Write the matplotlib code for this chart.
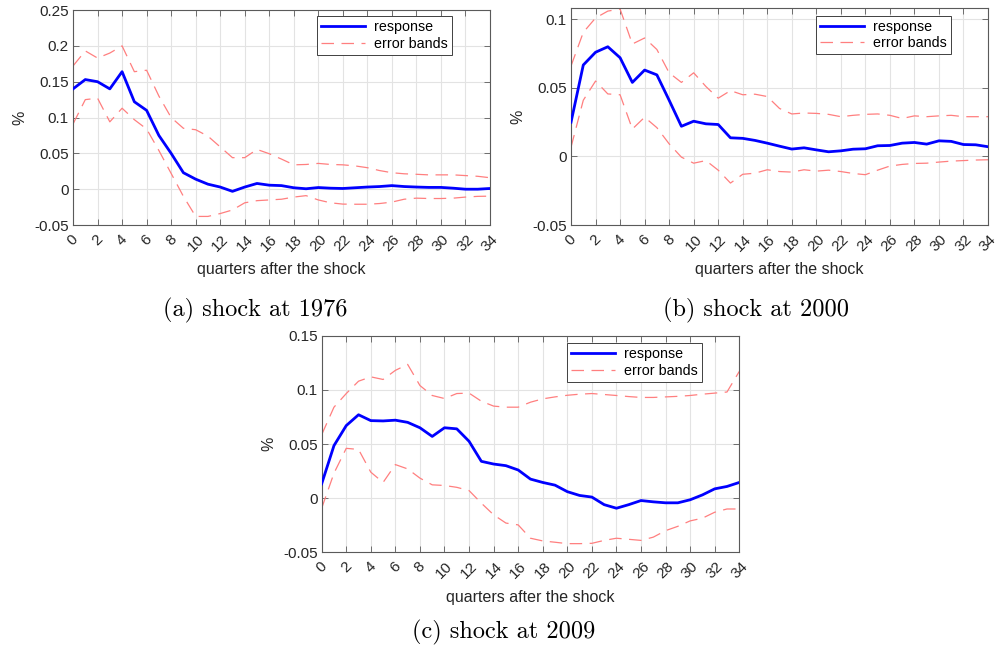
import numpy as np
import matplotlib
matplotlib.use('Agg')
import matplotlib.pyplot as plt

plt.rcParams['font.family'] = ['Liberation Sans', 'DejaVu Sans']
plt.rcParams['axes.unicode_minus'] = False

quarters = np.arange(35)

# shock at 1976
resp_a = [0.140, 0.153, 0.150, 0.140, 0.164, 0.122, 0.110, 0.075, 0.050, 0.023,
          0.014, 0.007, 0.003, -0.003, 0.003, 0.008, 0.0056, 0.005, 0.002, 0.0006,
          0.0023, 0.0014, 0.001, 0.002, 0.003, 0.0037, 0.005, 0.0037, 0.003, 0.0025,
          0.0025, 0.0014, 0.0, 0.0, 0.001]
upper_a = [0.172, 0.193, 0.183, 0.190, 0.200, 0.164, 0.166, 0.130, 0.100, 0.085,
           0.083, 0.074, 0.059, 0.044, 0.044, 0.0555, 0.0495, 0.042, 0.034, 0.0345,
           0.036, 0.0345, 0.034, 0.0325, 0.030, 0.026, 0.023, 0.0215, 0.0208, 0.020,
           0.020, 0.020, 0.019, 0.018, 0.016]
lower_a = [0.091, 0.125, 0.127, 0.094, 0.113, 0.097, 0.084, 0.054, 0.022, -0.010,
           -0.038, -0.038, -0.034, -0.029, -0.019, -0.016, -0.015, -0.014, -0.011, -0.009,
           -0.015, -0.019, -0.0208, -0.021, -0.021, -0.020, -0.018, -0.014, -0.0125, -0.013,
           -0.013, -0.0125, -0.011, -0.010, -0.0097]

# shock at 2000
resp_b = [0.025, 0.0667, 0.076, 0.080, 0.072, 0.054, 0.063, 0.0595, 0.041, 0.022,
          0.0257, 0.0238, 0.0233, 0.0136, 0.0132, 0.0117, 0.0097, 0.0075, 0.0054, 0.0063,
          0.0048, 0.0034, 0.0041, 0.0053, 0.0056, 0.0078, 0.008, 0.0097, 0.0102, 0.009,
          0.0114, 0.011, 0.0087, 0.0085, 0.0071]
upper_b = [0.066, 0.0905, 0.101, 0.106, 0.1075, 0.082, 0.0864, 0.078, 0.061, 0.054,
           0.061, 0.051, 0.0425, 0.048, 0.045, 0.0454, 0.0437, 0.035, 0.031, 0.0317,
           0.0314, 0.0307, 0.029, 0.030, 0.0307, 0.031, 0.030, 0.0277, 0.0296, 0.029,
           0.0296, 0.030, 0.029, 0.029, 0.029]
lower_b = [0.0068, 0.041, 0.055, 0.0456, 0.045, 0.020, 0.0286, 0.021, 0.0092, -0.0005,
           -0.0049, -0.003, -0.010, -0.0194, -0.013, -0.0122, -0.0097, -0.011, -0.0114, -0.0097,
           -0.0107, -0.010, -0.011, -0.0124, -0.0133, -0.010, -0.007, -0.0058, -0.0051, -0.0049,
           -0.0041, -0.0034, -0.003, -0.0026, -0.0024]

# shock at 2009
resp_c = [0.0133, 0.0485, 0.067, 0.077, 0.0716, 0.0713, 0.072, 0.070, 0.065, 0.057,
          0.065, 0.064, 0.0525, 0.034, 0.0315, 0.030, 0.026, 0.0176, 0.0145, 0.012,
          0.006, 0.0025, 0.001, -0.006, -0.0093, -0.006, -0.0022, -0.0034, -0.0043, -0.0043,
          -0.0015, 0.003, 0.0086, 0.0108, 0.0145]
upper_c = [0.0586, 0.084, 0.0966, 0.108, 0.112, 0.1096, 0.118, 0.1235, 0.104, 0.0948,
           0.092, 0.0966, 0.097, 0.0895, 0.085, 0.084, 0.084, 0.0886, 0.0917, 0.0935,
           0.095, 0.096, 0.0966, 0.0957, 0.0948, 0.0938, 0.093, 0.093, 0.0935, 0.094,
           0.0948, 0.096, 0.097, 0.098, 0.117]
lower_c = [-0.0093, 0.023, 0.046, 0.045, 0.024, 0.0145, 0.031, 0.027, 0.0185, 0.0123,
           0.0117, 0.010, 0.007, -0.0046, -0.0154, -0.023, -0.0247, -0.037, -0.0395, -0.0407,
           -0.042, -0.042, -0.0417, -0.039, -0.037, -0.038, -0.039, -0.036, -0.030, -0.026,
           -0.021, -0.0185, -0.013, -0.010, -0.010]

yticks_a = [-0.05, 0, 0.05, 0.1, 0.15, 0.2, 0.25]
yticks_b = [-0.05, 0, 0.05, 0.1]
yticks_c = [-0.05, 0, 0.05, 0.1, 0.15]
xticks = np.arange(0, 35, 2)
captions = ['(a) shock at 1976', '(b) shock at 2000', '(c) shock at 2009']

fig = plt.figure(figsize=(9.99, 6.53), dpi=100)

panels = [
    ([0.0731, 0.6554, 0.4174, 0.3292], resp_a, upper_a, lower_a, yticks_a, (-0.05, 0.25), (0.909, 0.972)),
    ([0.5716, 0.6554, 0.4174, 0.3318], resp_b, upper_b, lower_b, yticks_b, (-0.05, 0.108), (0.911, 0.966)),
    ([0.3220, 0.1542, 0.4180, 0.3317], resp_c, upper_c, lower_c, yticks_c, (-0.05, 0.15), (0.911, 0.966)),
]

grey = '#5a5a5a'
for rect, resp, up, lo, yt, ylim, leg_anchor in panels:
    ax = fig.add_axes(rect)
    ax.plot(quarters, resp, color='#0000ff', lw=2, label='response', zorder=3)
    ax.plot(quarters, up, color='#ff7f7f', lw=0.9, dashes=(10, 6), label='error bands', zorder=2)
    ax.plot(quarters, lo, color='#ff7f7f', lw=0.9, dashes=(10, 6), zorder=2)
    ax.set_xlim(0, 34)
    ax.set_ylim(*ylim)
    ax.set_xticks(xticks)
    ax.set_xticklabels([str(t) for t in xticks], rotation=45, ha='center', va='top')
    ax.set_yticks(yt)
    ax.set_yticklabels(['%g' % v for v in yt])
    ax.grid(True, color='#e3e3e3', lw=0.8)
    ax.set_axisbelow(True)
    for s in ax.spines.values():
        s.set_color(grey)
        s.set_linewidth(0.8)
    ax.tick_params(direction='in', top=True, right=True, length=4, width=0.6,
                   color=grey, labelsize=11, labelcolor='#262626', pad=3)
    ax.tick_params(axis='x', pad=5)
    ax.set_xlabel('quarters after the shock', fontsize=11.5, color='#262626', labelpad=6)
    ax.set_ylabel('%', fontsize=11.5, color='#262626', labelpad=5)
    leg = ax.legend(loc='upper right', bbox_to_anchor=leg_anchor, fontsize=10.3,
                    fancybox=False, framealpha=1, edgecolor='#404040',
                    handlelength=3.1, borderpad=0.3, labelspacing=0.15,
                    handletextpad=0.6, borderaxespad=0)
    leg.get_frame().set_linewidth(0.7)

fig.text(0.255, 0.525, captions[0], family='cmr10', fontsize=17.5, ha='center', va='center')
fig.text(0.757, 0.525, captions[1], family='cmr10', fontsize=17.5, ha='center', va='center')
fig.text(0.504, 0.031, captions[2], family='cmr10', fontsize=17.5, ha='center', va='center')

fig.savefig('out.png', dpi=100)
